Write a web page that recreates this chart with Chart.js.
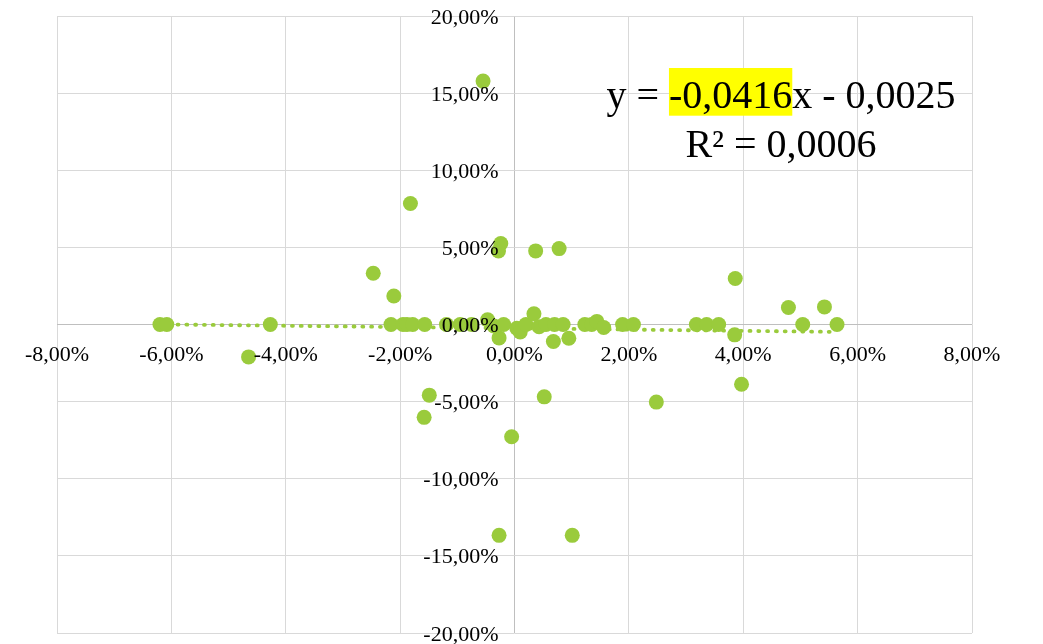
<!DOCTYPE html>
<html>
<head>
<meta charset="utf-8">
<script src="https://cdn.jsdelivr.net/npm/chart.js@4.4.1/dist/chart.umd.min.js"></script>
<style>
html,body{margin:0;padding:0;background:#fff;}
#wrap{position:relative;width:1043px;height:644px;}
</style>
</head>
<body>
<div id="wrap"><canvas id="c"></canvas></div>
<script>
// Data (values in percent)
const xValues = [-6.20,-6.08,-4.65,-4.27,-2.47,-2.16,-2.11,-1.95,-1.88,-1.82,-1.78,-1.57,-1.58,-1.49,-1.19,-0.95,-0.75,-0.55,-0.47,-0.36,-0.28,-0.24,-0.27,-0.27,-0.19,-0.05,0.04,0.10,0.20,0.34,0.37,0.43,0.52,0.55,0.68,0.70,0.78,0.85,0.95,1.01,1.23,1.35,1.44,1.56,1.89,2.08,2.48,3.18,3.36,3.57,3.85,3.86,3.97,4.79,5.04,5.42,5.64];
const yValues = [0,0,-2.10,0,3.32,0,1.85,0,0,7.84,0,0,-6.02,-4.58,0,0,0,15.78,0.30,-0.10,4.77,5.25,-0.87,-13.67,0,-7.28,-0.24,-0.48,0,0.70,4.77,-0.15,-4.69,0,-1.10,0,4.92,0,-0.89,-13.67,0,0,0.20,-0.19,0,0,-5.03,0,0,0,-0.67,2.98,-3.87,1.10,0,1.14,0];
const trendX = [-6.20, 5.64];
const trendY = [0.01, -0.48];
const xTicks = [-8,-6,-4,-2,0,2,4,6,8];
const yTicks = [-20,-15,-10,-5,0,5,10,15,20];
const eqPrefix = 'y = ';
const eqSlope = '-0,0416';
const eqRest = 'x - 0,0025';
const eqR2 = 'R² = 0,0006';

const pts = xValues.map((x,i)=>({x:x,y:yValues[i]}));
const trendPts = trendX.map((x,i)=>({x:x,y:trendY[i]}));
const fmt = v => v.toFixed(2).replace('.', ',') + '%';
const green = '#9ACB3C';

const labelPlugin = {
  id:'labels',
  afterDraw(chart){
    const ctx = chart.ctx, xs = chart.scales.x, ys = chart.scales.y;
    const x0 = xs.getPixelForValue(0), y0 = ys.getPixelForValue(0);
    ctx.save();
    ctx.fillStyle = '#000';
    ctx.font = '22px "Liberation Serif"';
    ctx.textBaseline = 'alphabetic';
    ctx.textAlign = 'right';
    yTicks.forEach(v => ctx.fillText(fmt(v), x0 - 16, ys.getPixelForValue(v) + 7.6));
    ctx.textAlign = 'center';
    xTicks.forEach(v => ctx.fillText(fmt(v), xs.getPixelForValue(v), y0 + 36));
    // equation
    ctx.font = '40px "Liberation Serif"';
    ctx.textAlign = 'left';
    const w1 = ctx.measureText(eqPrefix).width, w2 = ctx.measureText(eqSlope).width, w3 = ctx.measureText(eqRest).width;
    const cx = 781, base1 = 108, base2 = 157;
    const sx = cx - (w1+w2+w3)/2;
    ctx.fillStyle = '#FFFF00';
    ctx.fillRect(sx + w1, base1 - 40, w2, 47.7);
    ctx.fillStyle = '#000';
    ctx.fillText(eqPrefix, sx, base1);
    ctx.fillText(eqSlope, sx + w1, base1);
    ctx.fillText(eqRest, sx + w1 + w2, base1);
    ctx.textAlign = 'center';
    ctx.fillText(eqR2, cx, base2);
    ctx.restore();
  }
};

new Chart(document.getElementById('c'), {
  type:'scatter',
  data:{datasets:[
    {data:pts, backgroundColor:green, borderWidth:0, pointRadius:7.5, pointHoverRadius:7.5, order:1},
    {type:'line', data:trendPts, borderColor:green, borderWidth:3.8, borderDash:[1,7.8], borderCapStyle:'round', pointRadius:0, fill:false, order:2}
  ]},
  options:{
    responsive:true, maintainAspectRatio:false, animation:false,
    layout:{padding:{left:57,right:71,top:16,bottom:11}},
    plugins:{legend:{display:false}, tooltip:{enabled:false}},
    scales:{
      x:{type:'linear', min:-8, max:8,
         ticks:{display:false, stepSize:2},
         grid:{drawTicks:false, lineWidth:1, color:c=>c.tick && c.tick.value===0 ? '#bfbfbf' : '#d9d9d9'},
         border:{display:false}},
      y:{type:'linear', min:-20, max:20,
         ticks:{display:false, stepSize:5},
         grid:{drawTicks:false, lineWidth:1, color:c=>c.tick && c.tick.value===0 ? '#bfbfbf' : '#d9d9d9'},
         border:{display:false}}
    }
  },
  plugins:[labelPlugin]
});
</script>
</body>
</html>
